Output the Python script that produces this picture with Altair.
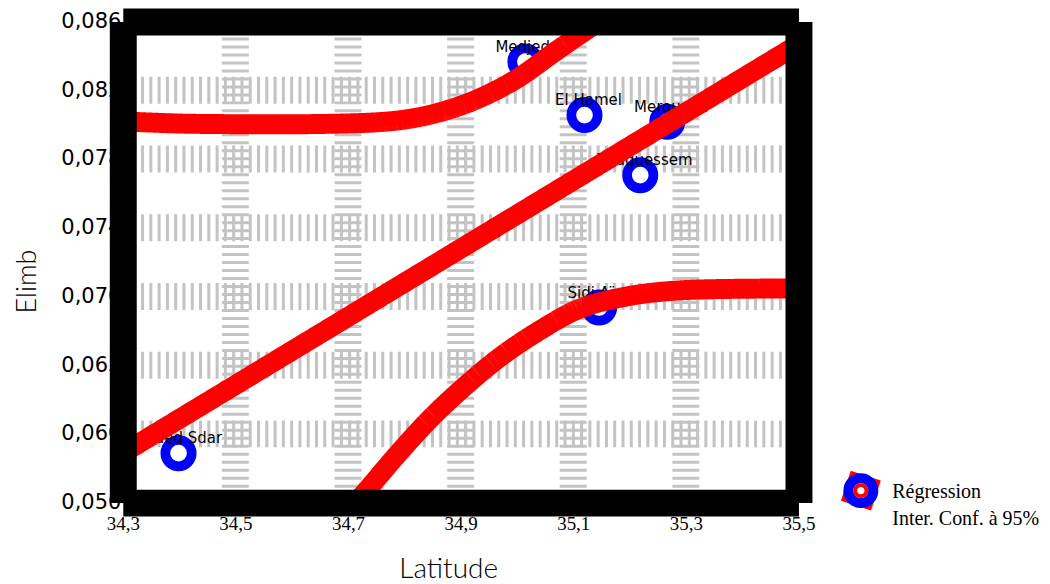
import json
import numpy as np
import pandas as pd
import altair as alt

# ---------------- data ----------------
X_TICKS = [34.3, 34.5, 34.7, 34.9, 35.1, 35.3, 35.5]
Y_MIN, Y_MAX = 0.050, 0.086
Y_STEP = (Y_MAX - Y_MIN) / 7
Y_TICKS = [round(Y_MIN + i * Y_STEP, 7) for i in range(8)]
Y_LABELS = ["0,050", "0,060", "0,065", "0,070", "0,074", "0,078", "0,082", "0,086"]

SITES = ["Oued Sdar", "Medjedel", "El Hamel", "Merouana", "Bouguessem", "Sidi Aïssa"]
SITE_LAT = [34.399, 35.015, 35.120, 35.267, 35.219, 35.146]
SITE_ELIMB = [0.0537, 0.0830, 0.0790, 0.0785, 0.0745, 0.0646]

SERIES = ["Régression", "Inter. Conf. à 95%"]

REG_LAT = [34.3, 35.5]
REG_ELIMB = [0.0537, 0.0843]

UP_LAT = [34.300, 34.4365, 34.5783, 34.7024, 34.791, 34.8619, 34.9328, 35.0037, 35.0657, 35.1278, 35.1987]
UP_ELIMB = [0.07853, 0.07834, 0.07831, 0.07838, 0.07861, 0.07920, 0.08025, 0.08182, 0.08368, 0.08548, 0.08742]

LOW_LAT = [34.6847, 34.7343, 34.7874, 34.8441, 34.9062, 34.9682, 35.0391, 35.1100, 35.1809, 35.2518, 35.3582, 35.4770, 35.500]
LOW_ELIMB = [0.04858, 0.05097, 0.05359, 0.05620, 0.05866, 0.06083, 0.06285, 0.06449, 0.06531, 0.06576, 0.06598, 0.06602, 0.06602]

# ---------------- styles ----------------
RED = "#ff0000"
BLUE = "#0000ff"
GRID = "#c3c3c3"
FRAME_W = 27

# rotated square legend symbol (unit coordinates)
_th = np.deg2rad(18)
_h = 0.66
_pts = []
for sx, sy in [(1, 1), (1, -1), (-1, -1), (-1, 1)]:
    x, y = sx * _h, sy * _h
    _pts.append((x * np.cos(_th) - y * np.sin(_th), x * np.sin(_th) + y * np.cos(_th)))
SQ_PATH = "M" + "L".join(f"{px:.3f},{py:.3f}" for px, py in _pts) + "Z"

sites_df = pd.DataFrame({"site": SITES, "lat": SITE_LAT, "elimb": SITE_ELIMB,
                         "s": "s1", "f": "f1"})
lines_df = pd.concat([
    pd.DataFrame({"curve": "reg", "serie": SERIES[0], "lat": REG_LAT, "elimb": REG_ELIMB}),
    pd.DataFrame({"curve": "up", "serie": SERIES[1], "lat": UP_LAT, "elimb": UP_ELIMB}),
    pd.DataFrame({"curve": "low", "serie": SERIES[1], "lat": LOW_LAT, "elimb": LOW_ELIMB}),
], ignore_index=True)
lines_df["c"] = "c1"

xs = alt.Scale(domain=[X_TICKS[0], X_TICKS[-1]], nice=False, zero=False)
ys = alt.Scale(domain=[Y_MIN, Y_MAX], nice=False, zero=False)

y_label_expr = f"{json.dumps(Y_LABELS)}[round((datum.value - {Y_MIN}) / {Y_STEP})]"
x_label_expr = "replace(format(datum.value, '.1f'), '.', ',')"

frame = dict(ticks=False, tickSize=0, grid=False, domainColor="black",
             domainWidth=FRAME_W, zindex=1)

ax_bottom = alt.Axis(orient="bottom", values=X_TICKS, labelExpr=x_label_expr,
                     labelFont="Liberation Serif", labelFontSize=19, labelColor="black",
                     labelPadding=12, labelFlush=False, labelOverlap=False,
                     title="Latitude", titleFont="Lato", titleFontWeight=300,
                     titleFontSize=28, titleColor="black", titleX=326, titleY=75,
                     titleAlign="center", titleBaseline="alphabetic", **frame)
ax_left = alt.Axis(orient="left", values=Y_TICKS, labelExpr=y_label_expr,
                   labelFont="DejaVu Sans", labelFontSize=21, labelColor="black",
                   labelPadding=2, labelFlush=False, labelOverlap=False,
                   title="Elimb", titleFont="Lato", titleFontWeight=300,
                   titleFontSize=27, titleColor="black", titleAngle=270,
                   titleX=-87, titleY=260, titleAlign="center",
                   titleBaseline="alphabetic", **frame)
ax_top = alt.Axis(orient="top", labels=False, title=None, **frame)
ax_right = alt.Axis(orient="right", labels=False, title=None, **frame)

common_leg = dict(orient="none", title=None, padding=0, labelFont="Liberation Serif",
                  labelColor="black", labelLimit=400)
leg_sq = alt.Legend(**common_leg, legendX=715.5, legendY=446, values=["f2"],
                    symbolType=SQ_PATH, symbolSize=2304, symbolStrokeWidth=0,
                    labelExpr="''", labelFontSize=1, zindex=1)
leg_blue = alt.Legend(**common_leg, legendX=722, legendY=452.5, symbolType="circle",
                      symbolSize=625, symbolStrokeWidth=10, labelExpr="''",
                      labelFontSize=1, zindex=2)
leg_red = alt.Legend(**common_leg, legendX=732, legendY=462.5, symbolType="circle",
                     symbolSize=125, symbolStrokeWidth=3.8, symbolFillColor="white",
                     labelExpr="''", labelFontSize=1, zindex=3)
leg_text = alt.Legend(**common_leg, legendX=746, legendY=461, symbolSize=16,
                      symbolStrokeWidth=0, symbolOpacity=0, labelFontSize=20,
                      labelOffset=5, rowPadding=7, zindex=4)

grid_v = alt.Chart(pd.DataFrame({"gx": X_TICKS[1:-1]})).mark_rule(
    color=GRID, strokeWidth=FRAME_W, strokeDash=[3, 5]
).encode(x=alt.X("gx:Q", scale=xs, axis=None))

grid_h = alt.Chart(pd.DataFrame({"gy": Y_TICKS[1:-1]})).mark_rule(
    color=GRID, strokeWidth=FRAME_W, strokeDash=[3, 5.3]
).encode(y=alt.Y("gy:Q", scale=ys, axis=None))

points = alt.Chart(sites_df).mark_point(
    shape="circle", size=697, filled=True, fill="white", strokeWidth=9.7, opacity=1
).encode(
    x=alt.X("lat:Q", scale=xs, axis=ax_bottom),
    y=alt.Y("elimb:Q", scale=ys, axis=ax_left),
    stroke=alt.Stroke("s:N", scale=alt.Scale(domain=["s1"], range=[BLUE]), legend=leg_blue),
)

labels = alt.Chart(sites_df).mark_text(
    font="DejaVu Sans", fontSize=15, align="center", baseline="alphabetic", dx=4, dy=-10
).encode(
    x=alt.X("lat:Q", scale=xs, axis=None),
    y=alt.Y("elimb:Q", scale=ys, axis=None),
    text="site:N",
    fill=alt.Fill("f:N", scale=alt.Scale(domain=["f1", "f2"], range=["black", RED]),
                  legend=leg_sq),
)

lines = alt.Chart(lines_df).mark_line(
    strokeWidth=20, clip=True, interpolate="monotone", strokeCap="butt"
).encode(
    x=alt.X("lat:Q", scale=xs, axis=ax_top),
    y=alt.Y("elimb:Q", scale=ys, axis=ax_right),
    detail="curve:N",
    color=alt.Color("c:N", scale=alt.Scale(domain=["c1"], range=[RED]), legend=leg_red),
    strokeDash=alt.StrokeDash("serie:N", scale=alt.Scale(domain=SERIES, range=[[1, 0], [1, 0]]),
                              legend=leg_text),
)

chart = alt.layer(grid_v, grid_h, points, labels, lines).resolve_axis(
    x="independent", y="independent"
).properties(
    width=677, height=482,
    autosize=alt.AutoSizeParams(type="none"),
    padding={"left": 115, "top": 13, "right": 244, "bottom": 84},
    background="white",
).configure_view(stroke=None)

chart.save("out.html", embed_options={"renderer": "svg", "actions": False})
